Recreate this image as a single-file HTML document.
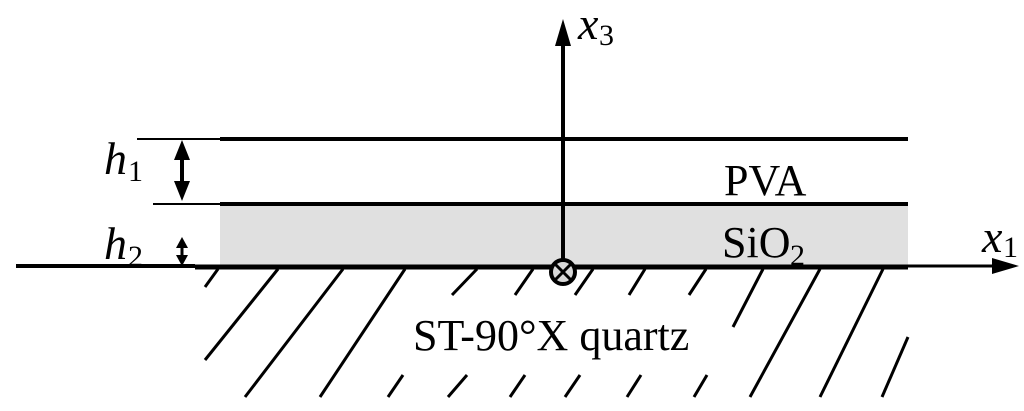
<!DOCTYPE html>
<html><head><meta charset="utf-8"><style>
html,body{margin:0;padding:0;background:#fff;}
svg{display:block;}
text{font-family:"Liberation Serif","Times New Roman",serif;fill:#000;}
</style></head><body>
<svg width="1024" height="411" viewBox="0 0 1024 411" xmlns="http://www.w3.org/2000/svg">
<rect x="220" y="204" width="688" height="62" fill="#e0e0e0"/>
<g stroke="#000" stroke-linecap="butt">
<line x1="137" y1="139" x2="220" y2="139" stroke-width="2"/>
<line x1="220" y1="139" x2="908" y2="139" stroke-width="4"/>
<line x1="153" y1="204" x2="220" y2="204" stroke-width="2"/>
<line x1="220" y1="204" x2="908" y2="204" stroke-width="4"/>
<line x1="16" y1="266" x2="195" y2="266" stroke-width="4"/>
<line x1="195" y1="267" x2="908" y2="267" stroke-width="5"/>
<line x1="908" y1="266" x2="995" y2="266" stroke-width="3"/>
<line x1="563" y1="266" x2="563" y2="44" stroke-width="4"/>
<line x1="182" y1="155" x2="182" y2="186" stroke-width="4"/>
<line x1="182" y1="244" x2="182" y2="260" stroke-width="3"/>
</g>
<g stroke="#000" stroke-width="3">
<line x1="218" y1="269" x2="205" y2="287"/>
<line x1="278" y1="269" x2="205" y2="360"/>
<line x1="343" y1="269" x2="245" y2="397"/>
<line x1="405" y1="269" x2="320" y2="397"/>
<line x1="477" y1="269" x2="452" y2="295"/>
<line x1="533" y1="269" x2="515" y2="295"/>
<line x1="593" y1="269" x2="575" y2="295"/>
<line x1="645" y1="269" x2="629" y2="295"/>
<line x1="706" y1="269" x2="689" y2="295"/>
<line x1="763" y1="269" x2="733" y2="327"/>
<line x1="820" y1="269" x2="750" y2="397"/>
<line x1="883" y1="269" x2="820" y2="397"/>
<line x1="908" y1="337" x2="882" y2="397"/>
<line x1="403" y1="375" x2="388" y2="397"/>
<line x1="467" y1="375" x2="448" y2="397"/>
<line x1="525" y1="375" x2="510" y2="397"/>
<line x1="580" y1="375" x2="565" y2="397"/>
<line x1="641" y1="375" x2="627" y2="397"/>
<line x1="707" y1="375" x2="694" y2="397"/>
</g>
<polygon points="563,19 555,46 571,46" fill="#000"/>
<polygon points="1019,266 992,258 992,274" fill="#000"/>
<polygon points="182,140 174,160 190,160" fill="#000"/>
<polygon points="182,201 174,181 190,181" fill="#000"/>
<polygon points="182,237 176,248 188,248" fill="#000"/>
<polygon points="182,266 176,255 188,255" fill="#000"/>
<circle cx="563" cy="272" r="12" fill="#d8d8d8" stroke="#000" stroke-width="4"/>
<line x1="555" y1="264" x2="571" y2="280" stroke="#000" stroke-width="3"/>
<line x1="571" y1="264" x2="555" y2="280" stroke="#000" stroke-width="3"/>
<text x="578" y="39" font-size="46" font-style="italic" font-family="Liberation Serif, serif">x</text>
<text x="599" y="45" font-size="30" font-family="Liberation Serif, serif">3</text>
<text x="982" y="252" font-size="46" font-style="italic" font-family="Liberation Serif, serif">x</text>
<text x="1003" y="257" font-size="30" font-family="Liberation Serif, serif">1</text>
<text x="104" y="174" font-size="46" font-style="italic" font-family="Liberation Serif, serif">h</text>
<text x="128" y="181" font-size="30" font-family="Liberation Serif, serif">1</text>
<text x="104" y="259" font-size="46" font-style="italic" font-family="Liberation Serif, serif">h</text>
<text x="128" y="266" font-size="30" font-family="Liberation Serif, serif">2</text>
<text x="724" y="195" font-size="44" font-family="Liberation Serif, serif">PVA</text>
<text x="722" y="257" font-size="44" font-family="Liberation Serif, serif">SiO</text>
<text x="790" y="265" font-size="30" font-family="Liberation Serif, serif">2</text>
<text x="413" y="350" font-size="44" font-family="Liberation Serif, serif">ST-90°X quartz</text>
</svg>
</body></html>
